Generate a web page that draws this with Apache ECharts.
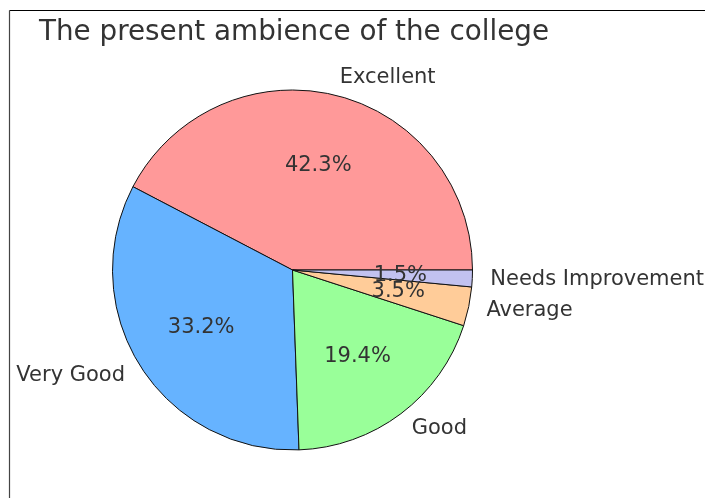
<!DOCTYPE html>
<html><head><meta charset="utf-8">
<script src="https://cdn.jsdelivr.net/npm/echarts@6/dist/echarts.min.js"></script>
<style>html,body{margin:0;padding:0;background:#fff}#c{width:705px;height:498px}</style>
</head><body><div id="c"></div>
<script>
const categories = ["Excellent", "Very Good", "Good", "Average", "Needs Improvement"];
const values = [42.3, 33.2, 19.4, 3.5, 1.5];
const colors = ["#ff9999", "#66b3ff", "#99ff99", "#ffcc99", "#c2c2f0"];
const titleText = "The present ambience of the college";

const font = "DejaVu Sans";
const data = categories.map((c, i) => ({ name: c, value: values[i], itemStyle: { color: colors[i] } }));
const dataInner = categories.map((c, i) => ({ name: c, value: values[i] }));
const center = [292.5, 270];
const R = 180;
const chart = echarts.init(document.getElementById('c'), null, { renderer: 'canvas' });
chart.setOption({
  animation: false,
  title: { text: titleText, left: 34, top: 14, textStyle: { fontFamily: font, fontSize: 27.8, fontWeight: 'normal', color: '#333' } },
  graphic: [
    { type: 'line', shape: { x1: 9.5, y1: 10.5, x2: 705, y2: 10.5 }, style: { stroke: '#000', lineWidth: 1.2 }, silent: true },
    { type: 'line', shape: { x1: 9.5, y1: 10.5, x2: 9.5, y2: 498 }, style: { stroke: '#444', lineWidth: 1.2 }, silent: true }
  ],
  series: [
    {
      type: 'pie', center: center, radius: [0, R], startAngle: 0, clockwise: false,
      avoidLabelOverlap: false, silent: true,
      itemStyle: { borderColor: '#111', borderWidth: 1 },
      label: { show: true, position: 'outside', formatter: '{b}', fontFamily: font, fontSize: 21, color: '#333', distanceToLabelLine: 0, padding: [4, 0, 0, 0] },
      labelLine: { show: false, length: 18, length2: 0 },
      labelLayout: { hideOverlap: false },
      data: data
    },
    {
      type: 'pie', center: center, radius: [0, 210], startAngle: 0, clockwise: false,
      avoidLabelOverlap: false, silent: true, z: 5,
      itemStyle: { color: 'rgba(0,0,0,0)', borderWidth: 0 },
      label: { show: true, position: 'inside', formatter: p => p.value.toFixed(1) + '%', fontFamily: font, fontSize: 21, color: '#333' },
      labelLine: { show: false },
      labelLayout: { hideOverlap: false },
      data: dataInner
    }
  ]
});
</script></body></html>
